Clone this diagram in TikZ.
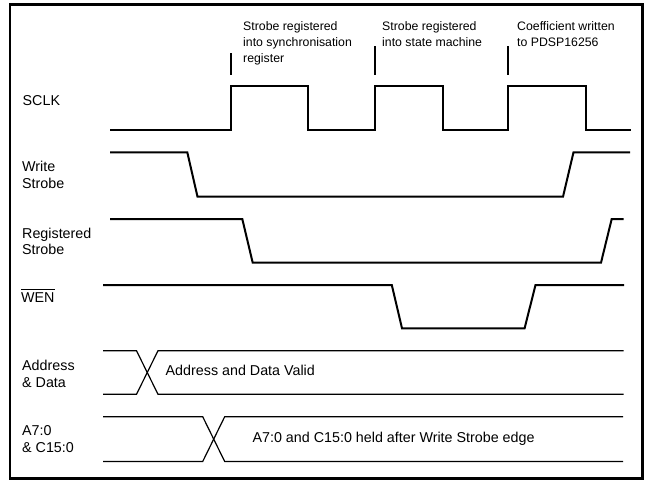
\documentclass[tikz,border=0pt]{standalone}
\usepackage{fontspec}
\setmainfont{Liberation Sans}
\begin{document}
\begin{tikzpicture}[x=1pt,y=-1pt,
  sig/.style={line width=2pt, line join=miter},
  bus/.style={line width=1.2pt},
  marker/.style={line width=2pt},
  frame/.style={line width=2.5pt},
  lbl/.style={anchor=base west, inner sep=0pt, align=left, font=\fontsize{14.3}{16.8}\selectfont},
  note/.style={anchor=base west, inner sep=0pt, align=left, font=\fontsize{12.3}{15.8}\selectfont},
]
\useasboundingbox (0,0) rectangle (648,480);
\draw[frame] (9.8,4.5) rectangle (642.5,478.5);

% annotations (anchor = baseline of last line)
\node[note] (n1) at (243,62.1) {Strobe registered\\into synchronisation\\register};
\node[note] (n2) at (382,46.3) {Strobe registered\\into state machine};
\node[note] (n3) at (517,46.3) {Coefficient written\\to PDSP16256};
\coordinate (m1t) at (231,53);  \coordinate (m1b) at (231,75);
\coordinate (m2t) at (375,46);  \coordinate (m2b) at (375,75);
\coordinate (m3t) at (508,46);  \coordinate (m3b) at (508,75);
\draw[marker] (m1t) -- (m1b);
\draw[marker] (m2t) -- (m2b);
\draw[marker] (m3t) -- (m3b);

% labels
\node[lbl] (sclk) at (22.5,105.5) {SCLK};
\node[lbl] (ws) at (22,188.6) {Write\\Strobe};
\node[lbl] (rs) at (22,254.8) {Registered\\Strobe};
\node[lbl] (wen) at (21,302.5) {WEN};
\draw[line width=0.9pt] ([yshift=2.6pt]wen.north west) -- ([yshift=2.6pt]wen.north east);
\node[lbl] (ad) at (22,387.6) {Address\\\& Data};
\node[lbl] (ac) at (22,452.6) {A7:0\\\& C15:0};

% SCLK
\draw[sig] (110,130) -- (231,130) -- (231,86) -- (308,86) -- (308,130) -- (375,130)
  -- (375,86) -- (442.5,86) -- (442.5,130) -- (508,130) -- (508,86) -- (585.5,86)
  -- (585.5,130) -- (631,130);
% Write Strobe
\draw[sig] (110,152.3) -- (187.3,152.3) -- (197.5,196.7) -- (563,196.7) -- (573.5,152.3) -- (630,152.3);
% Registered Strobe
\draw[sig] (110,219) -- (242.3,219) -- (252.7,262.7) -- (601,262.7) -- (611.7,219) -- (623.5,219);
% WEN
\draw[sig] (103,285) -- (391.8,285) -- (402,328.3) -- (524.6,328.3) -- (535.5,285) -- (624,285);

% Address & Data bus
\draw[bus] (103,350.7) -- (136.5,350.7) -- (158,394.3) -- (623.5,394.3);
\draw[bus] (103,394.3) -- (136.5,394.3) -- (158,350.7) -- (623.5,350.7);
\node[lbl] (adv) at (165.5,375.5) {Address and Data Valid};

% A7:0 & C15:0 bus
\draw[bus] (103,416.7) -- (202.7,416.7) -- (224.7,461.5) -- (623,461.5);
\draw[bus] (103,461.5) -- (202.7,461.5) -- (224.7,416.7) -- (623,416.7);
\node[lbl] (hold) at (252.4,442) {A7:0 and C15:0 held after Write Strobe edge};
\end{tikzpicture}
\end{document}
